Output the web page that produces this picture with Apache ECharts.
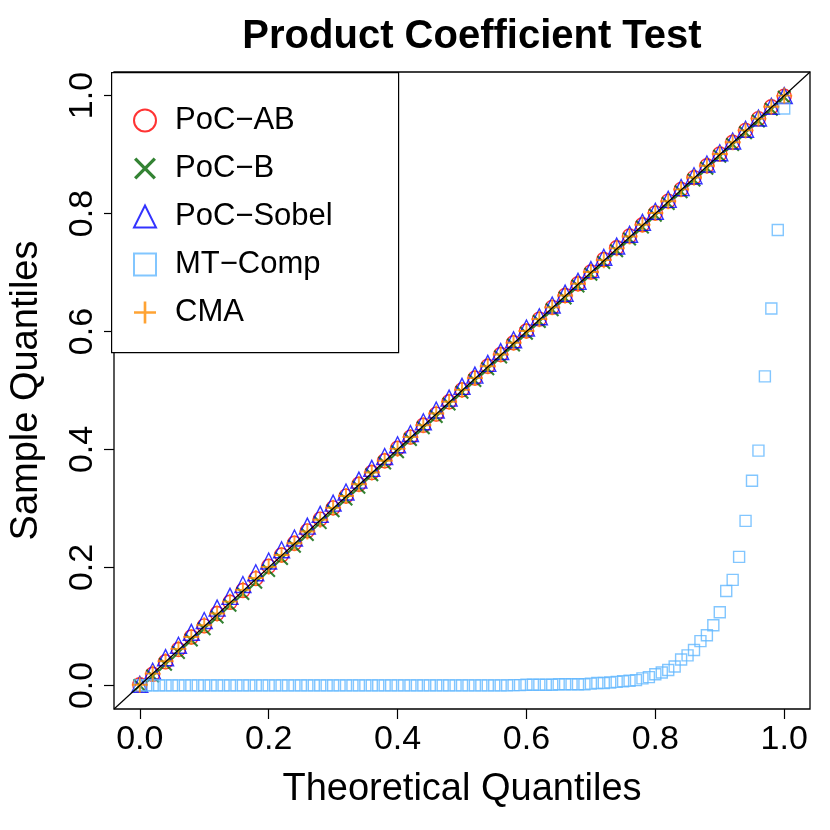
<!DOCTYPE html>
<html>
<head>
<meta charset="utf-8">
<title>Product Coefficient Test</title>
<script src="https://cdn.jsdelivr.net/npm/echarts@6/dist/echarts.min.js"></script>
<style>
  html, body { margin: 0; padding: 0; background: #fff; }
  #main { width: 830px; height: 830px; }
</style>
</head>
<body>
<div id="main"></div>
<script>
// theoretical quantiles for the near-diagonal series
const xDiag = [0.00,0.02,0.04,0.06,0.08,0.10,0.12,0.14,0.16,0.18,0.20,0.22,0.24,0.26,0.28,0.30,0.32,0.34,0.36,0.38,0.40,0.42,0.44,0.46,0.48,0.50,0.52,0.54,0.56,0.58,0.60,0.62,0.64,0.66,0.68,0.70,0.72,0.74,0.76,0.78,0.80,0.82,0.84,0.86,0.88,0.90,0.92,0.94,0.96,0.98,1.00];
const pocAB = [0.001,0.019,0.040,0.061,0.082,0.101,0.122,0.141,0.161,0.181,0.202,0.221,0.241,0.262,0.282,0.301,0.321,0.341,0.361,0.381,0.402,0.421,0.441,0.460,0.481,0.501,0.521,0.541,0.561,0.581,0.601,0.621,0.641,0.661,0.681,0.701,0.722,0.742,0.762,0.781,0.801,0.821,0.841,0.861,0.881,0.901,0.921,0.941,0.961,0.981,0.999];
const pocB = [0.000,0.016,0.036,0.056,0.077,0.096,0.116,0.136,0.156,0.175,0.195,0.215,0.236,0.256,0.276,0.296,0.316,0.336,0.357,0.377,0.396,0.417,0.437,0.456,0.477,0.497,0.517,0.537,0.557,0.577,0.597,0.617,0.637,0.657,0.677,0.697,0.717,0.737,0.757,0.777,0.797,0.817,0.837,0.857,0.877,0.897,0.917,0.937,0.957,0.977,0.997];
const pocSobel = [0.002,0.024,0.047,0.068,0.090,0.110,0.131,0.151,0.171,0.191,0.211,0.230,0.250,0.270,0.290,0.309,0.328,0.348,0.368,0.388,0.408,0.427,0.447,0.467,0.487,0.507,0.526,0.546,0.566,0.586,0.606,0.625,0.645,0.665,0.685,0.705,0.726,0.745,0.765,0.785,0.804,0.824,0.844,0.864,0.884,0.903,0.923,0.943,0.962,0.982,1.000];
const cma = [0.001,0.020,0.041,0.062,0.082,0.102,0.122,0.142,0.162,0.182,0.201,0.221,0.241,0.261,0.281,0.301,0.321,0.341,0.361,0.381,0.401,0.421,0.441,0.461,0.481,0.501,0.521,0.541,0.561,0.581,0.601,0.621,0.641,0.661,0.681,0.701,0.721,0.741,0.761,0.781,0.801,0.821,0.841,0.861,0.881,0.901,0.921,0.941,0.961,0.981,1.000];

// MT-Comp, theoretical quantiles 0.00 .. 1.00 by 0.01
const xMT = [0.00,0.01,0.02,0.03,0.04,0.05,0.06,0.07,0.08,0.09,0.10,0.11,0.12,0.13,0.14,0.15,0.16,0.17,0.18,0.19,0.20,0.21,0.22,0.23,0.24,0.25,0.26,0.27,0.28,0.29,0.30,0.31,0.32,0.33,0.34,0.35,0.36,0.37,0.38,0.39,0.40,0.41,0.42,0.43,0.44,0.45,0.46,0.47,0.48,0.49,0.50,0.51,0.52,0.53,0.54,0.55,0.56,0.57,0.58,0.59,0.60,0.61,0.62,0.63,0.64,0.65,0.66,0.67,0.68,0.69,0.70,0.71,0.72,0.73,0.74,0.75,0.76,0.77,0.78,0.79,0.80,0.81,0.82,0.83,0.84,0.85,0.86,0.87,0.88,0.89,0.90,0.91,0.92,0.93,0.94,0.95,0.96,0.97,0.98,0.99,1.00];
const mtComp = [0,0,0,0,0,0,0,0,0,0,0,0,0,0,0,0,0,0,0,0,0,0,0,0,0,0,0,0,0,0,0,0,0,0,0,0,0,0,0,0,0,0,0,0,0,0,0,0,0,0,0,0,0,0,0,0,0,0,0.0005,0.0005,0.001,0.001,0.001,0.001,0.001,0.002,0.002,0.002,0.002,0.002,0.003,0.004,0.004,0.005,0.006,0.007,0.008,0.009,0.012,0.014,0.019,0.022,0.026,0.032,0.044,0.051,0.060,0.075,0.085,0.102,0.124,0.160,0.179,0.218,0.279,0.347,0.398,0.524,0.639,0.772,0.978];

const ticks = [0, 0.2, 0.4, 0.6, 0.8, 1.0];
const names = ['PoC\u2212AB', 'PoC\u2212B', 'PoC\u2212Sobel', 'MT\u2212Comp', 'CMA'];
const colors = ['#ff0000', '#006400', '#0000ff', '#63b8ff', '#ff8c00'];

const plusPath = 'path://M-1.2,-10H1.2V-1.2H10V1.2H1.2V10H-1.2V1.2H-10V-1.2H-1.2Z';
const crossPath = 'path://M-8,-6.3L-6.3,-8L0,-1.7L6.3,-8L8,-6.3L1.7,0L8,6.3L6.3,8L0,1.7L-6.3,8L-8,6.3L-1.7,0Z';

function pairs(xs, ys) { return xs.map((x, i) => [x, ys[i]]); }

function hollow(name, sym, size, color, xs, ys) {
  return { name: name, type: 'scatter', symbol: sym, symbolSize: size, data: pairs(xs, ys),
    itemStyle: { color: 'rgba(0,0,0,0)', borderColor: color, borderWidth: 1.4 }, z: 3 };
}
function filled(name, sym, size, color, xs, ys) {
  return { name: name, type: 'scatter', symbol: sym, symbolSize: size, data: pairs(xs, ys),
    itemStyle: { color: color, borderWidth: 0 }, z: 3 };
}

const axisCommon = {
  type: 'value', min: -0.04, max: 1.04,
  axisLine: { show: false, onZero: false },
  splitLine: { show: false },
  axisTick: { show: true, customValues: ticks, length: 10, lineStyle: { color: '#000', width: 1.2 } },
  nameTextStyle: { fontSize: 38, color: '#000', fontFamily: 'Liberation Sans' }
};

const chart = echarts.init(document.getElementById('main'));
chart.setOption({
  animation: false,
  title: { text: 'Product Coefficient Test', left: 467, textAlign: 'center', top: 12,
    textStyle: { fontSize: 40, fontWeight: 'bold', color: '#000', fontFamily: 'Liberation Sans' } },
  grid: { left: 111, right: 20, top: 72, bottom: 121, show: true, borderColor: '#000', borderWidth: 1.3 },
  xAxis: Object.assign({}, axisCommon, {
    name: 'Theoretical Quantiles', nameLocation: 'middle', nameGap: 62,
    axisLabel: { customValues: ticks, fontSize: 34, color: '#000', margin: 14, fontFamily: 'Liberation Sans',
      formatter: v => v.toFixed(1) }
  }),
  yAxis: Object.assign({}, axisCommon, {
    name: 'Sample Quantiles', nameLocation: 'middle', nameGap: 68,
    axisLabel: { customValues: ticks, fontSize: 34, color: '#000', margin: 14, rotate: 90, fontFamily: 'Liberation Sans',
      formatter: v => v.toFixed(1) }
  }),
  legend: {
    left: 128, top: 100, orient: 'vertical', itemGap: 17, itemWidth: 22, itemHeight: 22, z: 20,
    textStyle: { fontSize: 31, color: '#000', fontFamily: 'Liberation Sans', padding: [0, 0, 0, 14] },
    data: names
  },
  graphic: [{ type: 'rect', left: 111, top: 72, shape: { width: 287, height: 280 },
    style: { fill: '#fff', stroke: '#000', lineWidth: 1.2 }, z: 5 }],
  series: [
    hollow(names[0], 'circle', 14, colors[0], xDiag, pocAB),
    filled(names[1], crossPath, 14, colors[1], xDiag, pocB),
    hollow(names[2], 'triangle', 16, colors[2], xDiag, pocSobel),
    hollow(names[3], 'rect', 11, colors[3], xMT, mtComp),
    Object.assign(filled(names[4], plusPath, 16, colors[4], xDiag, cma), {
      markLine: { silent: true, symbol: 'none', label: { show: false },
        lineStyle: { color: '#000', width: 1.2, type: 'solid' },
        data: [[{ coord: [-0.04, -0.04] }, { coord: [1.04, 1.04] }]] }
    })
  ]
});
</script>
</body>
</html>
